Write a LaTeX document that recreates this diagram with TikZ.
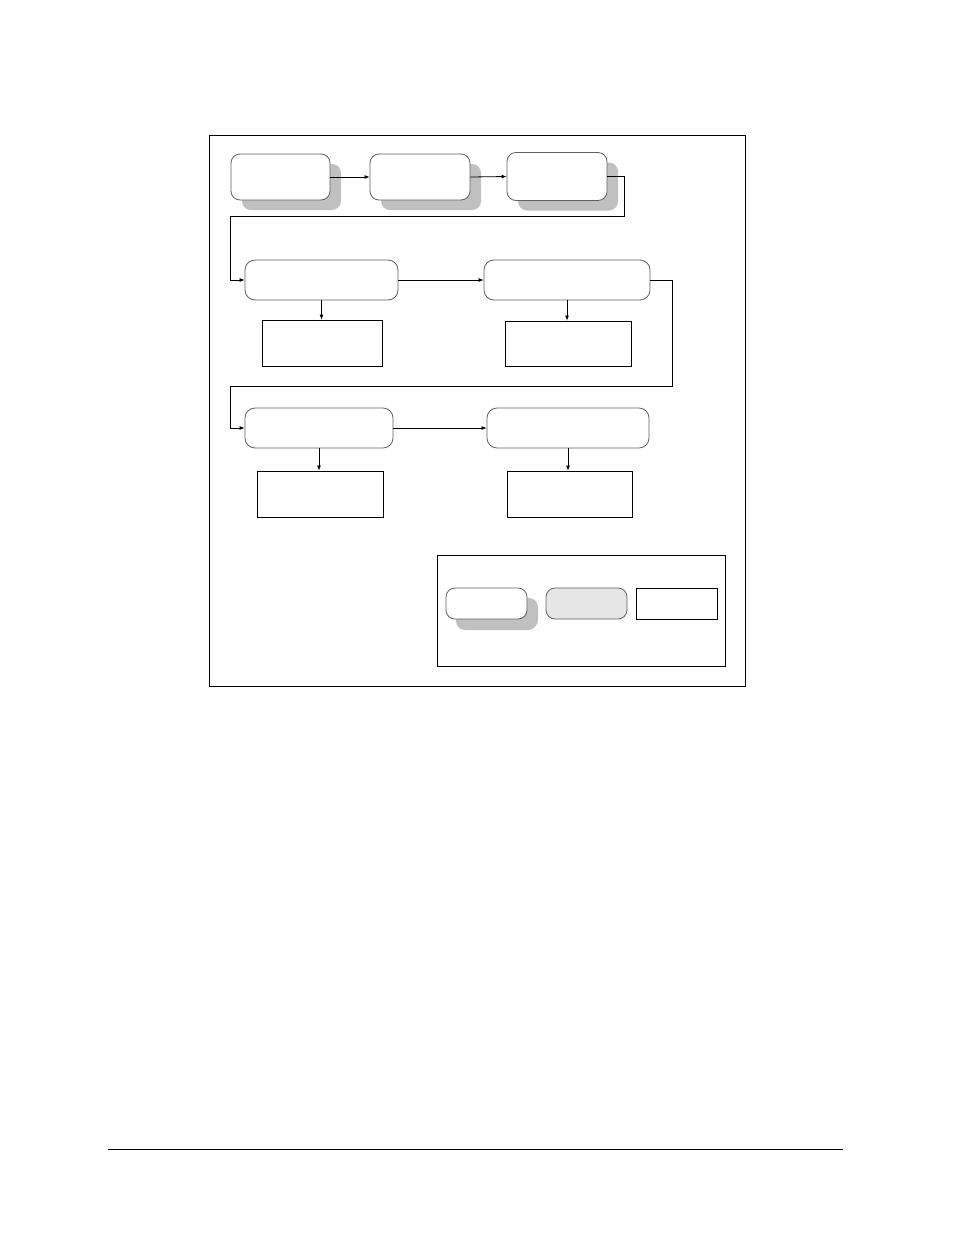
\documentclass[tikz,border=0pt]{standalone}
\usetikzlibrary{arrows.meta,shadows}
\definecolor{shadowgray}{HTML}{C0C0C0}
\definecolor{edgegray}{HTML}{606060}
\definecolor{taskfill}{HTML}{E6E6E6}
\tikzset{
  stage/.style={draw=edgegray, fill=white, rounded corners=9pt, line width=0.8pt, inner sep=0pt,
    drop shadow={shadow xshift=11pt, shadow yshift=-10pt, fill=shadowgray, opacity=1}},
  task/.style={draw=edgegray, fill=white, rounded corners=10pt, line width=0.8pt, inner sep=0pt},
  result/.style={draw, fill=white, line width=0.8pt, inner sep=0pt},
  flow/.style={line width=0.8pt, -{Latex[length=5pt,width=4pt]}}
}
\begin{document}
\begin{tikzpicture}[x=1pt,y=-1pt]
  \useasboundingbox (0,0) rectangle (954,1235);
  % frames
  \node [draw, line width=0.8pt, minimum width=536pt, minimum height=551pt] (frame) at (477,410.5) {};
  \node [draw, line width=0.8pt, minimum width=288pt, minimum height=111pt] (legend) at (581,610.5) {};
  % first row
  \node [stage, minimum width=99pt, minimum height=46pt] (s1) at (280.5,177) {};
  \node [stage, minimum width=100pt, minimum height=46pt] (s2) at (420,177) {};
  \node [stage, minimum width=100pt, minimum height=48pt] (s3) at (557,176.5) {};
  % second row
  \node [task, minimum width=153pt, minimum height=40pt] (a1) at (321.5,280) {};
  \node [task, minimum width=166pt, minimum height=40pt] (a2) at (567,280) {};
  \node [result, minimum width=120pt, minimum height=46pt] (r1) at (322,343) {};
  \node [result, minimum width=126pt, minimum height=45pt] (r2) at (568,343.5) {};
  % third row
  \node [task, minimum width=148pt, minimum height=40pt] (c1) at (319,428) {};
  \node [task, minimum width=162pt, minimum height=40pt] (c2) at (568,428) {};
  \node [result, minimum width=126pt, minimum height=46pt] (r3) at (320,494) {};
  \node [result, minimum width=125pt, minimum height=46pt] (r4) at (569.5,494) {};
  % legend
  \node [stage, minimum width=81pt, minimum height=31pt, drop shadow={shadow xshift=10pt, shadow yshift=-11pt, fill=shadowgray, opacity=1}] (l1) at (486.5,603.5) {};
  \node [task, fill=taskfill, rounded corners=9pt, minimum width=81pt, minimum height=31pt] (l2) at (586.5,603.5) {};
  \node [result, minimum width=81pt, minimum height=31pt] (l3) at (676.5,603.5) {};
  % bends
  \coordinate (b1) at (624,216);
  \coordinate (b2) at (230,216);
  \coordinate (b3) at (672,386);
  \coordinate (b4) at (230,386);
  % connectors
  \draw [flow] (s1.east) -- (s2.west);
  \draw [flow] (s2.east) -- (s3.west);
  \draw [flow] (s3.east) -| (b1) -- (b2) |- (a1.west);
  \draw [flow] (a1.east) -- (a2.west);
  \draw [flow] (a2.east) -| (b3) -- (b4) |- (c1.west);
  \draw [flow] (c1.east) -- (c2.west);
  \draw [flow] (a1.south) -- (a1.south |- r1.north);
  \draw [flow] (a2.south) -- (a2.south |- r2.north);
  \draw [flow] (c1.south) -- (c1.south |- r3.north);
  \draw [flow] (c2.south) -- (c2.south |- r4.north);
  % footer rule
  \coordinate (f1) at (108,1149);
  \coordinate (f2) at (843,1149);
  \draw [line width=0.9pt] (f1) -- (f2);
\end{tikzpicture}
\end{document}
